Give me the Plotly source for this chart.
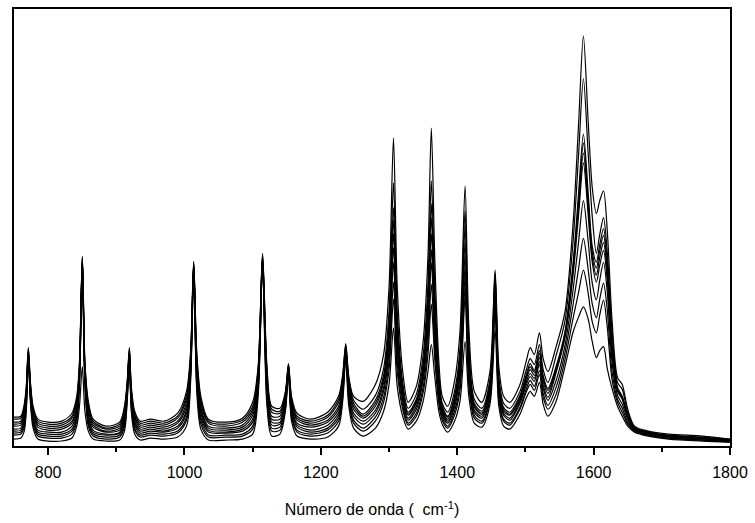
import plotly.graph_objects as go

# wavenumber knots (cm^-1)
wavenumber = [750, 760, 765, 768, 771, 774, 778, 785, 800, 820,
              835, 842, 846, 850.2, 854, 859, 866, 885, 905, 912,
              916, 919.2, 922, 927, 935, 950, 970, 990, 1003, 1009,
              1013.5, 1018, 1024, 1035, 1060, 1085, 1100, 1108, 1114.5, 1121,
              1128, 1140, 1148, 1152.5, 1157, 1165, 1185, 1210, 1226, 1232,
              1236.5, 1241, 1248, 1262, 1280, 1292, 1300, 1306.5, 1312, 1320,
              1328, 1340, 1350, 1357, 1362, 1367, 1373, 1378, 1386, 1396,
              1404, 1411.5, 1417, 1425, 1436, 1448, 1455.5, 1461, 1468, 1477,
              1492, 1501, 1507, 1513, 1520.5, 1526, 1533, 1545, 1558, 1570,
              1578, 1585, 1592, 1598, 1604, 1609, 1614.5, 1620, 1627, 1635,
              1642, 1650, 1660, 1680, 1710, 1760, 1800]

# intensities (arbitrary units), one list per spectrum
spec_01 = [29, 30, 42, 60, 99, 65, 40, 27, 24, 25,
           33, 50, 85, 191, 85, 45, 27, 20, 24, 40,
           65, 99, 60, 35, 25, 27, 25, 33, 55, 95,
           186, 95, 50, 27, 24, 28, 44, 80, 194, 80,
           40, 38, 55, 83, 50, 33, 27, 34, 50, 72,
           103, 70, 50, 45, 62, 92, 160, 310, 160, 75,
           44, 60, 105, 190, 320, 190, 85, 50, 40, 65,
           115, 262, 120, 55, 44, 75, 177, 80, 50, 44,
           62, 85, 99, 92, 114, 88, 75, 100, 135, 225,
           325, 413, 327, 260, 234, 247, 257, 217, 127, 69,
           62, 37, 20, 15, 12, 10, 7]
spec_02 = [27, 28, 39, 57, 98, 63, 38, 25, 22, 23,
           30, 47, 82, 190, 82, 42, 25, 18, 22, 37,
           63, 98, 57, 32, 23, 25, 23, 30, 51, 92,
           185, 91, 46, 25, 22, 26, 40, 77, 193, 76,
           37, 35, 53, 82, 47, 30, 25, 31, 47, 69,
           101, 67, 46, 37, 51, 78, 136, 265, 136, 64,
           38, 52, 91, 162, 267, 161, 73, 43, 34, 55,
           98, 237, 103, 47, 38, 67, 174, 70, 43, 38,
           55, 76, 88, 82, 102, 77, 64, 91, 126, 207,
           294, 370, 295, 231, 194, 213, 230, 195, 116, 64,
           57, 34, 19, 14, 11, 9, 7]
spec_03 = [24, 25, 36, 55, 96, 61, 35, 23, 20, 21,
           28, 44, 79, 189, 79, 39, 23, 17, 20, 35,
           61, 96, 55, 30, 21, 23, 21, 28, 48, 89,
           184, 87, 43, 23, 20, 24, 37, 74, 191, 72,
           34, 33, 51, 81, 45, 28, 23, 29, 44, 66,
           100, 64, 43, 32, 46, 71, 124, 240, 123, 58,
           34, 47, 83, 147, 244, 146, 67, 40, 30, 50,
           89, 222, 94, 43, 35, 63, 170, 65, 39, 34,
           51, 71, 83, 76, 96, 71, 58, 80, 115, 185,
           255, 314, 255, 201, 185, 203, 219, 185, 102, 59,
           50, 31, 18, 14, 10, 8, 6]
spec_04 = [22, 23, 33, 52, 95, 59, 33, 21, 18, 19,
           25, 40, 76, 188, 76, 35, 21, 15, 18, 32,
           59, 95, 52, 28, 19, 21, 19, 25, 44, 85,
           183, 82, 39, 20, 18, 21, 34, 70, 190, 67,
           30, 30, 49, 79, 42, 26, 21, 26, 40, 63,
           98, 60, 40, 30, 43, 67, 118, 228, 117, 56,
           32, 45, 79, 141, 230, 138, 64, 38, 29, 48,
           85, 205, 90, 41, 33, 61, 165, 63, 37, 32,
           49, 69, 80, 74, 93, 68, 56, 78, 113, 181,
           247, 305, 247, 195, 179, 197, 212, 180, 99, 57,
           49, 30, 18, 13, 10, 8, 6]
spec_05 = [20, 21, 31, 50, 94, 57, 31, 19, 16, 17,
           23, 37, 73, 187, 73, 32, 19, 14, 16, 30,
           57, 94, 50, 25, 17, 19, 17, 23, 40, 82,
           182, 78, 36, 18, 16, 19, 31, 67, 189, 63,
           27, 27, 47, 78, 40, 23, 19, 24, 37, 61,
           97, 57, 37, 28, 40, 64, 111, 214, 110, 53,
           31, 43, 75, 133, 214, 130, 60, 36, 27, 45,
           80, 192, 85, 39, 32, 58, 160, 60, 35, 31,
           47, 67, 77, 71, 89, 65, 53, 76, 111, 178,
           241, 295, 241, 190, 172, 190, 205, 174, 97, 57,
           48, 30, 17, 13, 10, 8, 6]
spec_06 = [17, 18, 28, 47, 93, 54, 28, 16, 14, 14,
           20, 34, 70, 186, 70, 29, 16, 12, 14, 27,
           54, 93, 47, 23, 15, 17, 15, 20, 36, 79,
           181, 74, 33, 16, 14, 17, 27, 64, 188, 59,
           24, 24, 44, 77, 37, 21, 16, 21, 34, 58,
           95, 54, 33, 25, 36, 59, 103, 200, 102, 49,
           28, 40, 70, 123, 198, 120, 56, 34, 25, 42,
           74, 180, 79, 36, 30, 56, 155, 57, 33, 28,
           45, 64, 73, 68, 85, 61, 49, 74, 109, 173,
           233, 285, 233, 185, 165, 182, 197, 167, 95, 55,
           47, 29, 17, 13, 10, 8, 6]
spec_07 = [15, 16, 25, 44, 91, 52, 26, 14, 12, 12,
           17, 31, 67, 185, 67, 26, 14, 11, 13, 24,
           52, 91, 44, 21, 13, 15, 14, 18, 33, 76,
           180, 70, 29, 14, 13, 15, 24, 61, 186, 55,
           21, 22, 42, 76, 34, 19, 14, 18, 31, 55,
           94, 51, 30, 22, 33, 55, 96, 185, 95, 46,
           26, 37, 66, 115, 185, 112, 53, 32, 23, 39,
           70, 170, 75, 34, 28, 54, 150, 54, 31, 26,
           43, 61, 70, 65, 82, 58, 46, 66, 101, 158,
           206, 247, 206, 164, 147, 167, 185, 155, 85, 51,
           42, 27, 16, 12, 9, 7, 5]
spec_08 = [13, 14, 22, 42, 90, 50, 24, 12, 10, 10,
           15, 28, 64, 184, 64, 23, 12, 9, 11, 22,
           50, 90, 42, 18, 11, 13, 12, 15, 29, 73,
           179, 65, 26, 11, 11, 12, 20, 58, 185, 50,
           18, 19, 40, 75, 32, 16, 12, 16, 28, 52,
           92, 48, 26, 18, 29, 49, 86, 165, 84, 41,
           23, 33, 59, 103, 163, 99, 47, 29, 20, 35,
           62, 160, 67, 31, 25, 50, 145, 50, 27, 23,
           39, 57, 66, 60, 76, 53, 41, 59, 94, 143,
           179, 209, 178, 143, 129, 148, 164, 137, 75, 47,
           38, 24, 16, 11, 8, 6, 5]
spec_09 = [11, 12, 19, 39, 89, 48, 22, 10, 8, 8,
           12, 25, 62, 183, 62, 20, 10, 7, 9, 19,
           48, 89, 39, 16, 9, 11, 10, 13, 26, 70,
           178, 61, 22, 9, 9, 10, 17, 55, 184, 46,
           15, 16, 38, 74, 29, 14, 10, 13, 25, 49,
           90, 45, 23, 15, 25, 44, 77, 148, 75, 37,
           21, 30, 54, 92, 143, 88, 43, 26, 18, 31,
           56, 150, 61, 28, 23, 47, 138, 46, 25, 21,
           37, 54, 62, 56, 72, 49, 37, 52, 87, 129,
           155, 177, 154, 125, 114, 132, 147, 120, 67, 44,
           34, 22, 15, 11, 8, 6, 4]
spec_10 = [7, 8, 15, 35, 87, 45, 18, 7, 5, 5,
           8, 20, 40, 80, 35, 15, 7, 5, 6, 15,
           45, 87, 35, 12, 6, 8, 7, 9, 20, 65,
           177, 55, 17, 6, 6, 7, 12, 50, 182, 40,
           10, 12, 35, 72, 25, 10, 7, 9, 20, 45,
           88, 40, 18, 10, 18, 35, 62, 119, 60, 30,
           17, 25, 45, 75, 102, 70, 35, 22, 14, 25,
           45, 105, 50, 23, 19, 42, 117, 40, 20, 17,
           32, 48, 55, 50, 64, 42, 30, 45, 80, 115,
           130, 140, 128, 105, 89, 96, 100, 78, 58, 40,
           30, 20, 14, 10, 7, 5, 4]

spectra = [spec_01, spec_02, spec_03, spec_04, spec_05,
           spec_06, spec_07, spec_08, spec_09, spec_10]

x_ticks = [800, 1000, 1200, 1400, 1600, 1800]
x_title = "Número de onda (\u00a0 cm<sup>-1</sup>)"

fig = go.Figure()
for s in spectra:
    fig.add_trace(go.Scatter(
        x=wavenumber, y=s, mode="lines",
        line=dict(color="black", width=1.2, shape="spline", smoothing=0.8),
        hoverinfo="skip", showlegend=False))

font_family = "Arial, 'Liberation Sans', sans-serif"
fig.update_layout(
    width=755, height=523,
    margin=dict(l=14, r=21, t=7, b=76),
    paper_bgcolor="white", plot_bgcolor="white",
    font=dict(family=font_family, size=16, color="black"),
    showlegend=False,
)
fig.update_xaxes(
    range=[750, 1800], tickvals=x_ticks, ticktext=[str(v) for v in x_ticks],
    ticks="outside", ticklen=7, tickwidth=1.5, tickcolor="black",
    ticklabelstandoff=4,
    minor=dict(ticks="outside", ticklen=4, tickwidth=1.5, tickcolor="black",
               dtick=100, tick0=0, showgrid=False),
    showline=True, linewidth=2, linecolor="black", mirror=True,
    showgrid=False, zeroline=False,
    tickfont=dict(size=16, family=font_family),
    title=dict(text=x_title, font=dict(size=16, family=font_family), standoff=24),
)
fig.update_yaxes(
    range=[0, 440], showticklabels=False, ticks="",
    showline=True, linewidth=2, linecolor="black", mirror=True,
    showgrid=False, zeroline=False,
)

fig.write_html("out.html")
